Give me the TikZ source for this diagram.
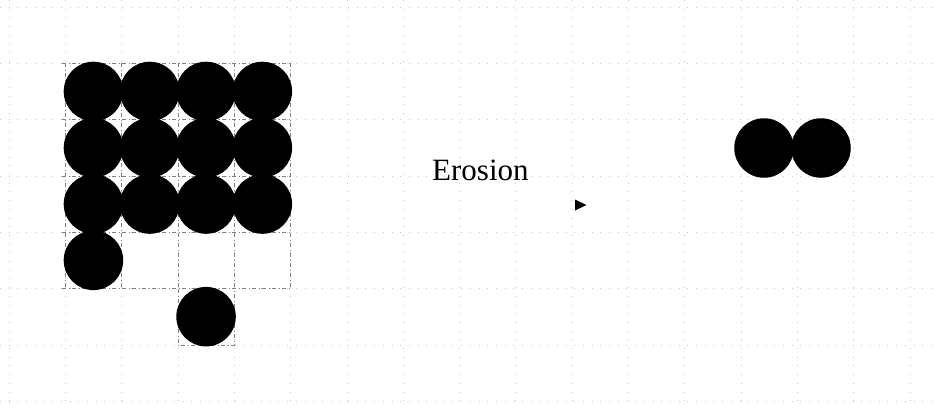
\documentclass[tikz,border=0pt]{standalone}
\usepackage{fontspec}
\setmainfont{Liberation Serif}
\begin{document}
\begin{tikzpicture}[x=1pt,y=-1pt,
  faintgrid/.style={black!22,line width=0.5pt,dash pattern=on 0.7pt off 8pt},
  blockgrid/.style={black!50,line width=0.5pt,dash pattern=on 4pt off 2.5pt on 1pt off 2.5pt},
  blob/.style={circle,fill=black,minimum size=59.5pt,inner sep=0pt},
  lbl/.style={font=\fontsize{31}{36}\selectfont,inner sep=0pt}]
\useasboundingbox (0,0) rectangle (939,407);
% faint background grid
\foreach \i in {0,...,16} {
  \draw[faintgrid] ({9+56.3*\i},0) -- ({9+56.3*\i},407);
}
\foreach \j in {0,...,7} {
  \draw[faintgrid] (0,{7+56.3*\j}) -- (939,{7+56.3*\j});
}
% darker grid lines under the left block
\foreach \i in {1,...,5} {
  \draw[blockgrid] ({9+56.3*\i},63.3) -- ({9+56.3*\i},289);
}
\foreach \j in {1,...,5} {
  \draw[blockgrid] (62,{7+56.3*\j}) -- (292,{7+56.3*\j});
}
\draw[blockgrid] (177.9,289) -- (177.9,345.5) -- (234.2,345.5) -- (234.2,289);
% left image: 4x3 block
\foreach \c in {1,...,4} {
  \foreach \r in {1,...,3} {
    \node[blob] (l\c\r) at ({9+56.3*\c+28.15},{7+56.3*\r+28.15}) {};
  }
}
\node[blob] (l14) at ({9+56.3+28.15},{7+56.3*4+28.15}) {};
\node[blob] (l35) at ({9+56.3*3+28.15},{7+56.3*5+28.15}) {};
% label and arrow head
\node[lbl,anchor=base west] (lab) at (432,180) {Erosion};
\fill (575,199.5) -- (586.5,205) -- (575,210.5) -- cycle;
% right image
\node[blob] (r1) at (764,148) {};
\node[blob] (r2) at (821,148) {};
\end{tikzpicture}
\end{document}
